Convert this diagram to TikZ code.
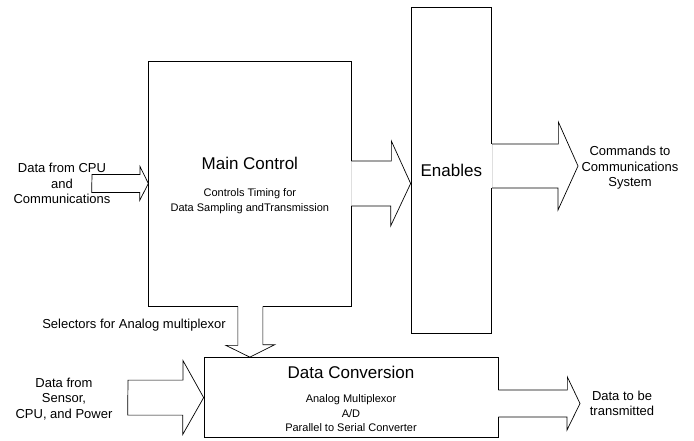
\documentclass[tikz,border=0pt]{standalone}
\usepackage{fontspec}
\setmainfont{Liberation Sans}
\begin{document}
\begin{tikzpicture}[x=1pt,y=-1pt,line width=0.7pt,
  kasten/.style={draw,rectangle,inner sep=0pt},
  titel/.style={font=\fontsize{17}{20}\selectfont},
  klein/.style={font=\fontsize{11}{14.5}\selectfont,align=center},
  beschr/.style={font=\fontsize{13}{15.5}\selectfont,align=center},
  abdecken/.style={white,line width=1.4pt},
  naht/.style={gray!25,line width=0.4pt}]
\useasboundingbox (0,0) rectangle (694,440);
% Kaesten
\node[kasten,minimum width=202.3pt,minimum height=245pt] (main) at (249.85,183.5) {};
\node[kasten,minimum width=80.7pt,minimum height=326pt] (enables) at (451.35,170) {};
\node[kasten,minimum width=294pt,minimum height=80.2pt] (conv) at (351,397.6) {};
% Oeffnungen in den Kaesten, wo die Pfeile ansetzen
\draw[abdecken] ([yshift=22.5pt]main.east) -- ([yshift=-22.5pt]main.east);
\draw[naht] ([yshift=22.5pt]main.east) -- ([yshift=-22.5pt]main.east);
\draw[abdecken] ([yshift=26pt]enables.east) -- ([yshift=-18pt]enables.east);
\draw[naht] ([yshift=26pt]enables.east) -- ([yshift=-18pt]enables.east);
\draw[abdecken] ([xshift=-12pt]main.south) -- ([xshift=13pt]main.south);
\draw[abdecken] ([yshift=7.6pt]conv.east) -- ([yshift=-19.4pt]conv.east);
% Freie Pfeilenden
\coordinate (inA) at (92,183.5);
\coordinate (outT) at (578,166);
\coordinate (inS) at (128,397.6);
\coordinate (outD) at (580,403.5);
% Pfeil: Eingang -> Main Control
\draw (inA) ++(0,-9) -- ++(48,0) -- ++(0,-8) -- (main.west)
      -- ++(-8.7,17) -- ++(0,-8) -- ++(-48,0) -- cycle;
% Pfeil: Main Control -> Enables
\draw ([yshift=22.5pt]main.east) -- ++(40,0) -- ++(0,-20) -- (enables.west |- main.east)
      -- ++(-20,42.5) -- ++(0,-20) -- ([yshift=-22.5pt]main.east);
% Pfeil: Enables -> Kommandos
\draw ([yshift=26pt]enables.east) -- ++(66.3,0) -- ++(0,-22) -- (outT)
      -- ++(-20,44) -- ++(0,-22) -- ([yshift=-18pt]enables.east);
% Pfeil: Main Control -> Data Conversion
\draw ([xshift=-12pt]main.south) -- ++(0,39) -- ++(-12,0) -- (main.south |- conv.north)
      -- ++(25,-12.5) -- ++(-12,0) -- ([xshift=13pt]main.south);
% Pfeil: Sensordaten -> Data Conversion
\draw (inS) ++(0,-17.5) -- ++(55,0) -- ++(0,-19.5) -- (conv.west)
      -- ++(-21,37) -- ++(0,-19.5) -- ++(-55,0) -- cycle;
% Pfeil: Data Conversion -> Ausgang
\draw ([yshift=7.6pt]conv.east) -- ++(69,0) -- ++(0,-13) -- (outD)
      -- ++(-13,26.5) -- ++(0,-13) -- ([yshift=-19.4pt]conv.east);
% Texte in den Kaesten
\node[titel] (mainT) at (249.85,163) {Main Control};
\node[klein] (mainS) at (249.85,201) {Controls Timing for\\Data Sampling andTransmission};
\node[titel] (enT) at (451.35,170) {Enables};
\node[titel] (convT) at (351,372) {Data Conversion};
\node[klein] (convS) at (351,413.5) {Analog Multiplexor\\A/D\\Parallel to Serial Converter};
% Beschriftungen
\node[beschr] (inAL) at (62,183.5) {Data from CPU\\and\\Communications};
\node[beschr] (outTL) at (630,168) {Commands to\\Communications\\System};
\node[beschr,anchor=east] (selL) at (229.5,325) {Selectors for Analog multiplexor};
\node[beschr] (inSL) at (64,399) {Data from\\Sensor,\\CPU, and Power};
\node[beschr] (outDL) at (622,403.5) {Data to be\\transmitted};
\end{tikzpicture}
\end{document}
